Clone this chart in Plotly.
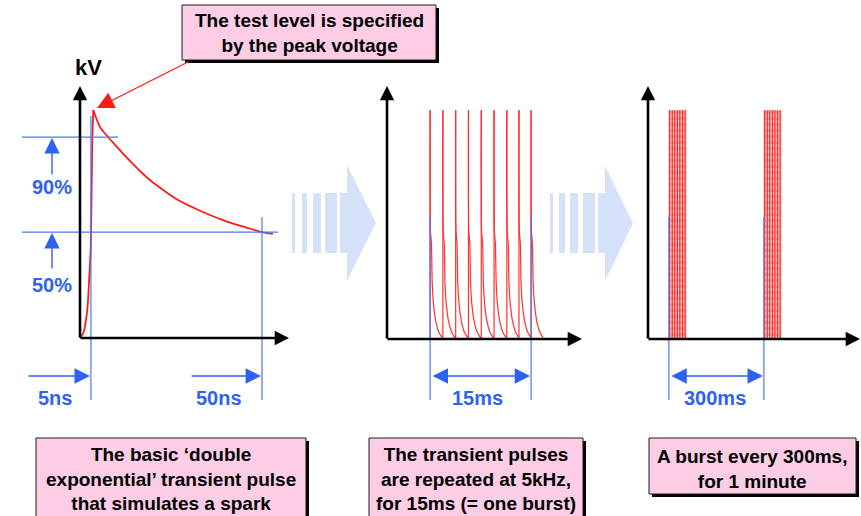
import plotly.graph_objects as go

W, H = 861, 516

# ------------------------------------------------------------------ data
# Panel 1: single 'double exponential' pulse (schematic time units ~ns, amplitude % of peak)
pulse_t_ns = [0, 0.9, 2.0, 2.55, 2.95, 3.16, 3.38, 3.65, 5.5, 10.2, 14.6, 19.2, 26.1,
              33.0, 40.4, 45.9, 50.0, 53.0]
pulse_pct = [0, 2.2, 12.3, 26.8, 40.0, 60.7, 87.0, 100.3, 92.8, 84.0, 76.5, 69.5, 61.5,
             56.0, 51.2, 48.5, 46.6, 45.8]
level_labels = ["90%", "50%"]
level_pct = [88.4, 46.6]
time_mark_ns = [3.0, 50.0]
time_mark_labels = ["5ns", "50ns"]

# Panel 2: pulses repeated inside one burst (schematic ms)
burst_pulse_start_ms = [6.4, 8.3, 10.2, 12.1, 14.0, 15.9, 17.8, 19.6, 21.4]
pulse_shape_dt_ms = [0, 0, 0.04, 0.2, 0.32, 0.55, 0.9, 1.3, 1.8]
pulse_shape_pct = [0, 100.6, 48, 42, 24, 14, 7, 3, 0.5]
burst_span_label = "15ms"

# Panel 3: bursts repeated every 300 ms (schematic ms)
burst_start_ms = [66, 366]
burst_width_ms = 54
burst_height_pct = 100.6
burst_period_label = "300ms"

callout_text = "The test level is specified<br>by the peak voltage"
caption_texts = [
    "The basic \u2018double<br>exponential\u2019 transient pulse<br>that simulates a spark",
    "The transient pulses<br>are repeated at 5kHz,<br>for 15ms (= one burst)",
    "A burst every 300ms,<br>for 1 minute",
]

# ------------------------------------------------------------------ styles / geometry
RED = "#ff1a1a"
BLUE = "#2f62f2"
BLUE_LINE = "#4a78f0"
PINK = "#fccde4"
ARROW_BG = "#d4e1f9"
FONT = "Liberation Sans, Arial, sans-serif"

panels = [
    dict(ox=80, oy=338, sx=3.64, sy=2.2727, dom=(0, 300)),
    dict(ox=387, oy=339, sx=6.733, sy=2.2727, dom=(300, 590)),
    dict(ox=648, oy=339, sx=0.31667, sy=2.2727, dom=(590, 861)),
]
YTOP, YBOT = 60, 420


def fx(px):
    return px / W


def fy(py):
    return 1 - py / H


def ux(p, px):
    return (px - p["ox"]) / p["sx"]


def uy(p, py):
    return (p["oy"] - py) / p["sy"]


def pxx(p, u):
    return p["ox"] + u * p["sx"]


fig = go.Figure()
layout_axes = {}
for i, p in enumerate(panels):
    sfx = "" if i == 0 else str(i + 1)
    layout_axes["xaxis" + sfx] = dict(
        domain=[fx(p["dom"][0]), fx(p["dom"][1])],
        range=[ux(p, p["dom"][0]), ux(p, p["dom"][1])],
        visible=False, fixedrange=True, anchor="y" + sfx)
    layout_axes["yaxis" + sfx] = dict(
        domain=[fy(YBOT), fy(YTOP)],
        range=[uy(p, YBOT), uy(p, YTOP)],
        visible=False, fixedrange=True, anchor="x" + sfx)

annotations = []
shapes = []


def seg(xs, ys, color, width, ax="x", ay="y", dash=None, shape="linear"):
    fig.add_trace(go.Scatter(x=xs, y=ys, mode="lines", xaxis=ax, yaxis=ay,
                             line=dict(color=color, width=width, dash=dash, shape=shape,
                                       smoothing=0.6 if shape == "spline" else None),
                             hoverinfo="skip"))


def arrow(tip, tail, color, width, size, head=2, both=False):
    annotations.append(dict(
        x=fx(tip[0]), y=fy(tip[1]), xref="paper", yref="paper",
        ax=tail[0] - tip[0], ay=tail[1] - tip[1], axref="pixel", ayref="pixel",
        text="", showarrow=True, arrowhead=head, startarrowhead=head,
        arrowside="end+start" if both else "end",
        arrowsize=size, startarrowsize=size, arrowwidth=width, arrowcolor=color,
        standoff=0, startstandoff=0))


def label(px, py, text, size, color, anchor="center"):
    annotations.append(dict(
        x=fx(px), y=fy(py), xref="paper", yref="paper", text="<b>" + text + "</b>",
        showarrow=False, xanchor=anchor, yanchor="middle",
        font=dict(family=FONT, size=size, color=color)))


# ------------------------------------------------------------------ big light-blue arrows
def big_arrow(stripes, body, head_tip, head_top, head_bot, y0, y1):
    for a, b in stripes:
        shapes.append(dict(type="rect", xref="paper", yref="paper", x0=fx(a), x1=fx(b),
                           y0=fy(y1), y1=fy(y0), fillcolor=ARROW_BG, line=dict(width=0),
                           layer="below"))
    a, b = body
    pts = [(a, y0), (b, y0), (b, head_top), (head_tip, (head_top + head_bot) / 2),
           (b, head_bot), (b, y1), (a, y1)]
    path = "M " + " L ".join(f"{fx(x):.5f},{fy(y):.5f}" for x, y in pts) + " Z"
    shapes.append(dict(type="path", path=path, xref="paper", yref="paper",
                       fillcolor=ARROW_BG, line=dict(width=0), layer="below"))


big_arrow([(292, 295), (302, 307), (313, 321), (325, 337)], (340, 347), 376, 165, 281, 193, 253)
big_arrow([(550, 553), (559, 565), (570, 578), (583, 595)], (598, 605), 633, 166, 281, 193, 253)

# ------------------------------------------------------------------ panel 1
p = panels[0]
seg(pulse_t_ns[:8], pulse_pct[:8], RED, 1.8, shape="spline")
seg(pulse_t_ns[7:], pulse_pct[7:], RED, 1.8, shape="spline")
level_end_px = [118, 278]
for val, end in zip(level_pct, level_end_px):
    seg([ux(p, 22), ux(p, end)], [val, val], BLUE_LINE, 1.2)
mark_top_px = [116, 217]
for t, top in zip(time_mark_ns, mark_top_px):
    seg([t, t], [uy(p, top), uy(p, 400)], BLUE_LINE, 1.2)
# level arrows (vertical) and labels
lvl_tail_px = [176, 270]
lvl_text_py = [187, 285]
for val, tail, ty, txt in zip(level_pct, lvl_tail_px, lvl_text_py, level_labels):
    tip_py = p["oy"] - val * p["sy"]
    arrow((52, tip_py + 1), (52, tail), BLUE, 1.4, 2.2)
    label(52, ty, txt, 20, BLUE)
# time arrows (horizontal) and labels
time_tail_px = [27, 190]
time_text_px = [55, 219]
for t, tail, tx, txt in zip(time_mark_ns, time_tail_px, time_text_px, time_mark_labels):
    tip_px = pxx(p, t)
    arrow((tip_px - 1, 376), (tail, 376), BLUE, 1.4, 2.2)
    label(tx, 398, txt, 20, BLUE)
# axes
arrow((80, 86), (80, 339), "black", 2.6, 1.1)
arrow((289, 338), (79, 338), "black", 2.6, 1.1)
label(88, 67, "kV", 22, "black")

# ------------------------------------------------------------------ panel 2
p = panels[1]
for s in burst_pulse_start_ms:
    xs = [s + dt for dt in pulse_shape_dt_ms]
    seg(xs[:2], pulse_shape_pct[:2], "#ff3030", 1.2, "x2", "y2")
    seg(xs[1:], pulse_shape_pct[1:], "#ff3030", 1.2, "x2", "y2", shape="spline")
first, last = burst_pulse_start_ms[0], burst_pulse_start_ms[-1]
for t in (first, last):
    seg([t, t], [uy(p, 217), uy(p, 400)], BLUE_LINE, 1.2, "x2", "y2")
arrow((pxx(p, last) - 1, 376), (pxx(p, first) + 1, 376), BLUE, 1.4, 2.2, both=True)
label((pxx(p, first) + pxx(p, last)) / 2 - 3, 398, burst_span_label, 20, BLUE)
arrow((387, 86), (387, 340), "black", 2.6, 1.1)
arrow((582, 339), (386, 339), "black", 2.6, 1.1)

# ------------------------------------------------------------------ panel 3
p = panels[2]
line_frac = [0.04, 0.2, 0.34, 0.5, 0.64, 0.8, 0.95]
white_frac = [0.12, 0.27, 0.42, 0.57, 0.72, 0.87]
for s in burst_start_ms:
    e = s + burst_width_ms
    fig.add_trace(go.Scatter(x=[s, e, e, s, s], y=[0, 0, burst_height_pct, burst_height_pct, 0],
                             fill="toself", fillcolor="#ff9a9a", mode="lines",
                             line=dict(width=0.5, color="#ff9a9a"), xaxis="x3", yaxis="y3",
                             hoverinfo="skip"))
    for f in white_frac:
        seg([s + f * burst_width_ms] * 2, [0, burst_height_pct], "#ffe0e0", 1, "x3", "y3", "dot")
    for f in line_frac:
        seg([s + f * burst_width_ms] * 2, [0, burst_height_pct], "#ff2a2a", 1.1, "x3", "y3")
b0, b1 = burst_start_ms
for t in (b0, b1):
    seg([t, t], [uy(p, 217), uy(p, 400)], BLUE_LINE, 1.2, "x3", "y3")
arrow((pxx(p, b1) - 1, 376), (pxx(p, b0) + 1, 376), BLUE, 1.4, 2.2, both=True)
label((pxx(p, b0) + pxx(p, b1)) / 2 - 1, 398, burst_period_label, 20, BLUE)
arrow((648, 86), (648, 340), "black", 2.6, 1.1)
arrow((861, 339), (647, 339), "black", 2.6, 1.1)

# ------------------------------------------------------------------ text boxes
def box(x0, y0, x1, y1):
    shapes.append(dict(type="rect", xref="paper", yref="paper", x0=fx(x0 + 3), x1=fx(x1 + 3),
                       y0=fy(y1 + 3), y1=fy(y0 + 3), fillcolor="black", line=dict(width=0)))
    shapes.append(dict(type="rect", xref="paper", yref="paper", x0=fx(x0), x1=fx(x1),
                       y0=fy(y1), y1=fy(y0), fillcolor=PINK, line=dict(color="#1a1a1a", width=1)))


box(182, 5, 436, 60)
label(309, 33, callout_text, 19, "black")
arrow((97, 108), (190, 61), RED, 1.3, 2.6)

cap_boxes = [(36, 438, 306, 540), (369, 438, 583, 540), (649, 438, 856, 494)]
cap_centers = [(171, 479), (476, 479), (752, 469)]
for (x0, y0, x1, y1), (cx, cy), txt in zip(cap_boxes, cap_centers, caption_texts):
    box(x0, y0, x1, y1)
    label(cx, cy, txt, 19, "black")

fig.update_layout(
    width=W, height=H, margin=dict(l=0, r=0, t=0, b=0),
    paper_bgcolor="white", plot_bgcolor="rgba(0,0,0,0)", showlegend=False,
    annotations=annotations, shapes=shapes, font=dict(family=FONT),
    **layout_axes)

fig.write_html("out.html", config={"displayModeBar": False},
               post_script="document.body.style.margin='0';"
                           "document.documentElement.style.overflow='hidden';")
